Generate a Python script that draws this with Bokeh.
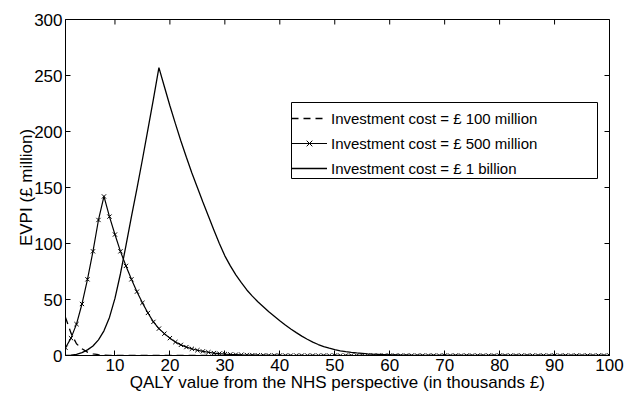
import math
from bokeh.plotting import figure
from bokeh.models import Range1d, FixedTicker, Legend, LegendItem, BoxAnnotation
from bokeh.embed import file_html
from bokeh.resources import INLINE

# QALY value (thousands of pounds)
qaly_k = list(range(1, 101))

# EVPI (million pounds) for each investment cost
evpi_100m = [
    34, 20, 10.5, 6, 3, 1.4, 0.7, 0.3, 0.1, 0,
    0, 0, 0, 0, 0, 0, 0, 0, 0, 0,
    0, 0, 0, 0, 0, 0, 0, 0, 0, 0,
    0, 0, 0, 0, 0, 0, 0, 0, 0, 0,
    0, 0, 0, 0, 0, 0, 0, 0, 0, 0,
    0, 0, 0, 0, 0, 0, 0, 0, 0, 0,
    0, 0, 0, 0, 0, 0, 0, 0, 0, 0,
    0, 0, 0, 0, 0, 0, 0, 0, 0, 0,
    0, 0, 0, 0, 0, 0, 0, 0, 0, 0,
    0, 0, 0, 0, 0, 0, 0, 0, 0, 0,
]
evpi_500m = [
    6.9, 15.5, 28, 46, 68, 93, 121, 142, 124, 108,
    93, 80, 68, 57, 47, 38, 30, 24, 19.5, 15.5,
    12, 9.5, 7.5, 6, 4.7, 3.7, 2.9, 2.2, 1.7, 1.3,
    1.0, 0.8, 0.6, 0.45, 0.35, 0.25, 0.18, 0.12, 0.08, 0.05,
    0, 0, 0, 0, 0, 0, 0, 0, 0, 0,
    0, 0, 0, 0, 0, 0, 0, 0, 0, 0,
    0, 0, 0, 0, 0, 0, 0, 0, 0, 0,
    0, 0, 0, 0, 0, 0, 0, 0, 0, 0,
    0, 0, 0, 0, 0, 0, 0, 0, 0, 0,
    0, 0, 0, 0, 0, 0, 0, 0, 0, 0,
]
evpi_1bn = [
    0, 0.3, 1, 2.5, 5, 8.5, 14, 22, 34, 51,
    73, 98, 124, 149, 175, 202, 229, 257, 240, 223,
    207, 191.5, 177, 163, 150, 137, 124.5, 112, 100, 89,
    80, 72, 65, 58.5, 53, 48, 43.5, 39, 35, 31,
    27.2, 23.7, 20.4, 17.3, 14.5, 12, 9.8, 8, 6.5, 5.2,
    4.2, 3.4, 2.8, 2.3, 1.9, 1.5, 1.2, 1.0, 0.8, 0.6,
    0.5, 0.4, 0.3, 0.2, 0.15, 0.1, 0.05, 0, 0, 0,
    0, 0, 0, 0, 0, 0, 0, 0, 0, 0,
    0, 0, 0, 0, 0, 0, 0, 0, 0, 0,
    0, 0, 0, 0, 0, 0, 0, 0, 0, 0,
]

x_ticks = [10, 20, 30, 40, 50, 60, 70, 80, 90, 100]
y_ticks = [0, 50, 100, 150, 200, 250, 300]
series_labels = [
    "Investment cost = £ 100 million",
    "Investment cost = £ 500 million",
    "Investment cost = £ 1 billion",
]
x_title = "QALY value from the NHS perspective (in thousands £)"
y_title = "EVPI (£ million)"

FONT = "Liberation Sans"

p = figure(width=626, height=394, output_backend="svg", toolbar_location=None,
           x_range=Range1d(1, 100), y_range=Range1d(0, 300),
           min_border_left=65, min_border_right=17, min_border_top=19,
           min_border_bottom=38,
           x_axis_label=x_title, y_axis_label=y_title)
p.grid.visible = False
p.outline_line_color = "black"
p.outline_line_width = 1
p.background_fill_color = "white"
p.border_fill_color = "white"

r100 = p.line(qaly_k, evpi_100m, line_color="black", line_width=1.3, line_dash="7 5")
r500 = p.line(qaly_k, evpi_500m, line_color="black", line_width=1.2)
r500m = p.scatter(qaly_k, evpi_500m, marker="x", size=6, line_color="black", line_width=1)
r1bn = p.line(qaly_k, evpi_1bn, line_color="black", line_width=1.3)

# inward ticks on the top and right edges of the box
p.scatter(x_ticks, [p.y_range.end] * len(x_ticks), marker="dash", size=10,
          angle=math.pi / 2, line_color="black", line_width=1)
p.scatter([p.x_range.end] * len(y_ticks), y_ticks, marker="dash", size=10,
          line_color="black", line_width=1)


def style_axis(ax, ticks):
    ax.ticker = FixedTicker(ticks=ticks)
    ax.major_tick_in = 5
    ax.major_tick_out = 0
    ax.minor_tick_line_color = None
    ax.axis_line_color = "black"
    ax.axis_line_width = 1
    ax.major_tick_line_color = "black"
    ax.major_tick_line_width = 1
    ax.major_label_text_font = FONT
    ax.major_label_text_font_size = "17px"
    ax.major_label_text_color = "black"
    ax.major_label_standoff = 3
    ax.axis_label_text_font = FONT
    ax.axis_label_text_font_size = "17px"
    ax.axis_label_text_font_style = "normal"
    ax.axis_label_text_color = "black"


style_axis(p.xaxis[0], x_ticks)
p.xaxis[0].axis_label_standoff = -1
style_axis(p.yaxis[0], y_ticks)
p.yaxis[0].axis_label_standoff = -5

# legend frame (MATLAB-style, wider than its texts)
legend_box = BoxAnnotation(left=226, right=532, bottom=177, top=253,
                           left_units="screen", right_units="screen",
                           bottom_units="screen", top_units="screen",
                           fill_color="white", fill_alpha=1,
                           line_color="black", line_alpha=1, line_width=1)
p.add_layout(legend_box)

legend = Legend(items=[
    LegendItem(label=series_labels[0], renderers=[r100]),
    LegendItem(label=series_labels[1], renderers=[r500, r500m]),
    LegendItem(label=series_labels[2], renderers=[r1bn]),
], location=(226, 177))
legend.label_text_font = FONT
legend.label_text_font_size = "15px"
legend.label_text_color = "black"
legend.glyph_width = 36
legend.glyph_height = 20
legend.label_height = 20
legend.label_standoff = 4
legend.spacing = 5
legend.padding = 3
legend.margin = 0
legend.border_line_color = None
legend.background_fill_alpha = 0
p.add_layout(legend)

open("out.html", "w").write(file_html(p, INLINE))
